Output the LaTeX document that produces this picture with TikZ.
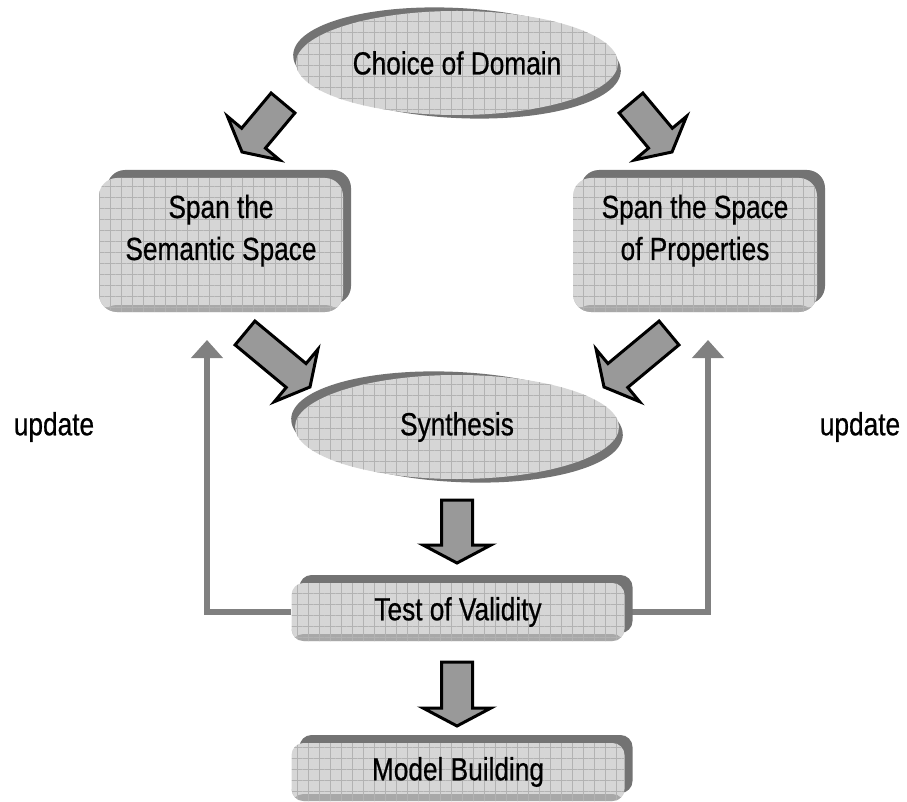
\documentclass[tikz,border=0pt]{standalone}
\usepackage{fontspec}
\setmainfont{Liberation Sans}[FakeStretch=0.82,FakeBold=0.6]
\usetikzlibrary{shapes.geometric}
\usetikzlibrary{shadows}
\usetikzlibrary{calc}
\usetikzlibrary{arrows.meta}
\usetikzlibrary{patterns.meta}
\usetikzlibrary{backgrounds}
\tikzset{x=1pt, y=-1pt,
    every node/.style={
        font=\fontsize{32}{42}\selectfont},
    face/.style={
        fill=black!16,
        postaction={pattern={Hatch[distance=11pt,line width=0.7pt]},
            pattern color=black!30}},
    stepbox/.style={
        face,
        rectangle,
        rounded corners=18pt,
        inner sep=0pt,
        drop shadow={shadow xshift=8pt,shadow yshift=8pt,
            fill=black!55,opacity=1},
        path picture={\fill[black!34] (path picture bounding box.south west)
            rectangle ([yshift=7pt]path picture bounding box.south east);}},
    twoline/.style={
        align=center,
        text height=60pt,
        text depth=30pt},
    oval/.style={
        face,
        ellipse,
        inner sep=0pt},
    rim/.style={fill=black!55},
    fat arrow/.style={
        fill=black!40,
        draw=black,
        line width=3pt,
        line join=miter},
    update/.style={
        draw=black!50,
        line width=6pt,
        -{Triangle[width=31pt,length=18pt]}}}
\newcommand{\fatarrow}[2]{%
    \draw[fat arrow] ($(#1)!15.5pt!90:(#2)$)
        -- ($(#2)!18pt!(#1)!15.5pt!90:(#2)$)
        -- ($(#2)!18pt!(#1)!34pt!90:(#2)$)
        -- (#2)
        -- ($(#2)!18pt!(#1)!34pt!-90:(#2)$)
        -- ($(#2)!18pt!(#1)!15.5pt!-90:(#2)$)
        -- ($(#1)!15.5pt!-90:(#2)$) -- cycle;}

\begin{document}
\begin{tikzpicture}
        \useasboundingbox (0,0) rectangle (907,802);

        \node[oval,minimum width=322pt,minimum height=104pt] (cod) at (457,63) {Choice of Domain};
        \node[stepbox,twoline,minimum width=244pt,minimum height=134pt] (sss) at (221,245) {Span the\\Semantic Space};
        \node[stepbox,twoline,minimum width=244pt,minimum height=134pt] (ssp) at (695,245) {Span the Space\\of Properties};
        \node[oval,minimum width=324pt,minimum height=104pt] (syn) at (457,427) {Synthesis};
        \node[stepbox,rounded corners=12pt,minimum width=333pt,minimum height=58pt] (tov) at (458,612) {Test of Validity};
        \node[stepbox,rounded corners=12pt,minimum width=333pt,minimum height=58pt] (mob) at (458,772) {Model Building};
        \node (updl) at (54,427) {update};
        \node (updr) at (860,427) {update};

        % rims of the ovals and the feedback lines
        \begin{scope}[on background layer]
            \fill[rim,rotate around={-3:(cod.center)}] (cod.center) ellipse [x radius=164, y radius=55];
            \fill[rim,rotate around={-3:(syn.center)}] (syn.center) ellipse [x radius=166, y radius=55];
            \coordinate (updL) at (207,340);
            \coordinate (updR) at (708,340);
            \draw[update] (tov.west) -| (updL);
            \draw[update] (tov.east) -| (updR);
        \end{scope}

        \coordinate (codL) at (283,103);
        \coordinate (sssT) at (242,152);
        \coordinate (codR) at (631,103);
        \coordinate (sspT) at (672,152);
        \coordinate (sssB) at (245,333);
        \coordinate (synL) at (310,387);
        \coordinate (sspB) at (669,333);
        \coordinate (synR) at (604,387);
        \coordinate (synB) at (457,500);
        \coordinate (tovT) at (457,563);
        \coordinate (tovB) at (457,662);
        \coordinate (mobT) at (457,726);

        \fatarrow{codL}{sssT}
        \fatarrow{codR}{sspT}
        \fatarrow{sssB}{synL}
        \fatarrow{sspB}{synR}
        \fatarrow{synB}{tovT}
        \fatarrow{tovB}{mobT}
\end{tikzpicture}
\end{document}
